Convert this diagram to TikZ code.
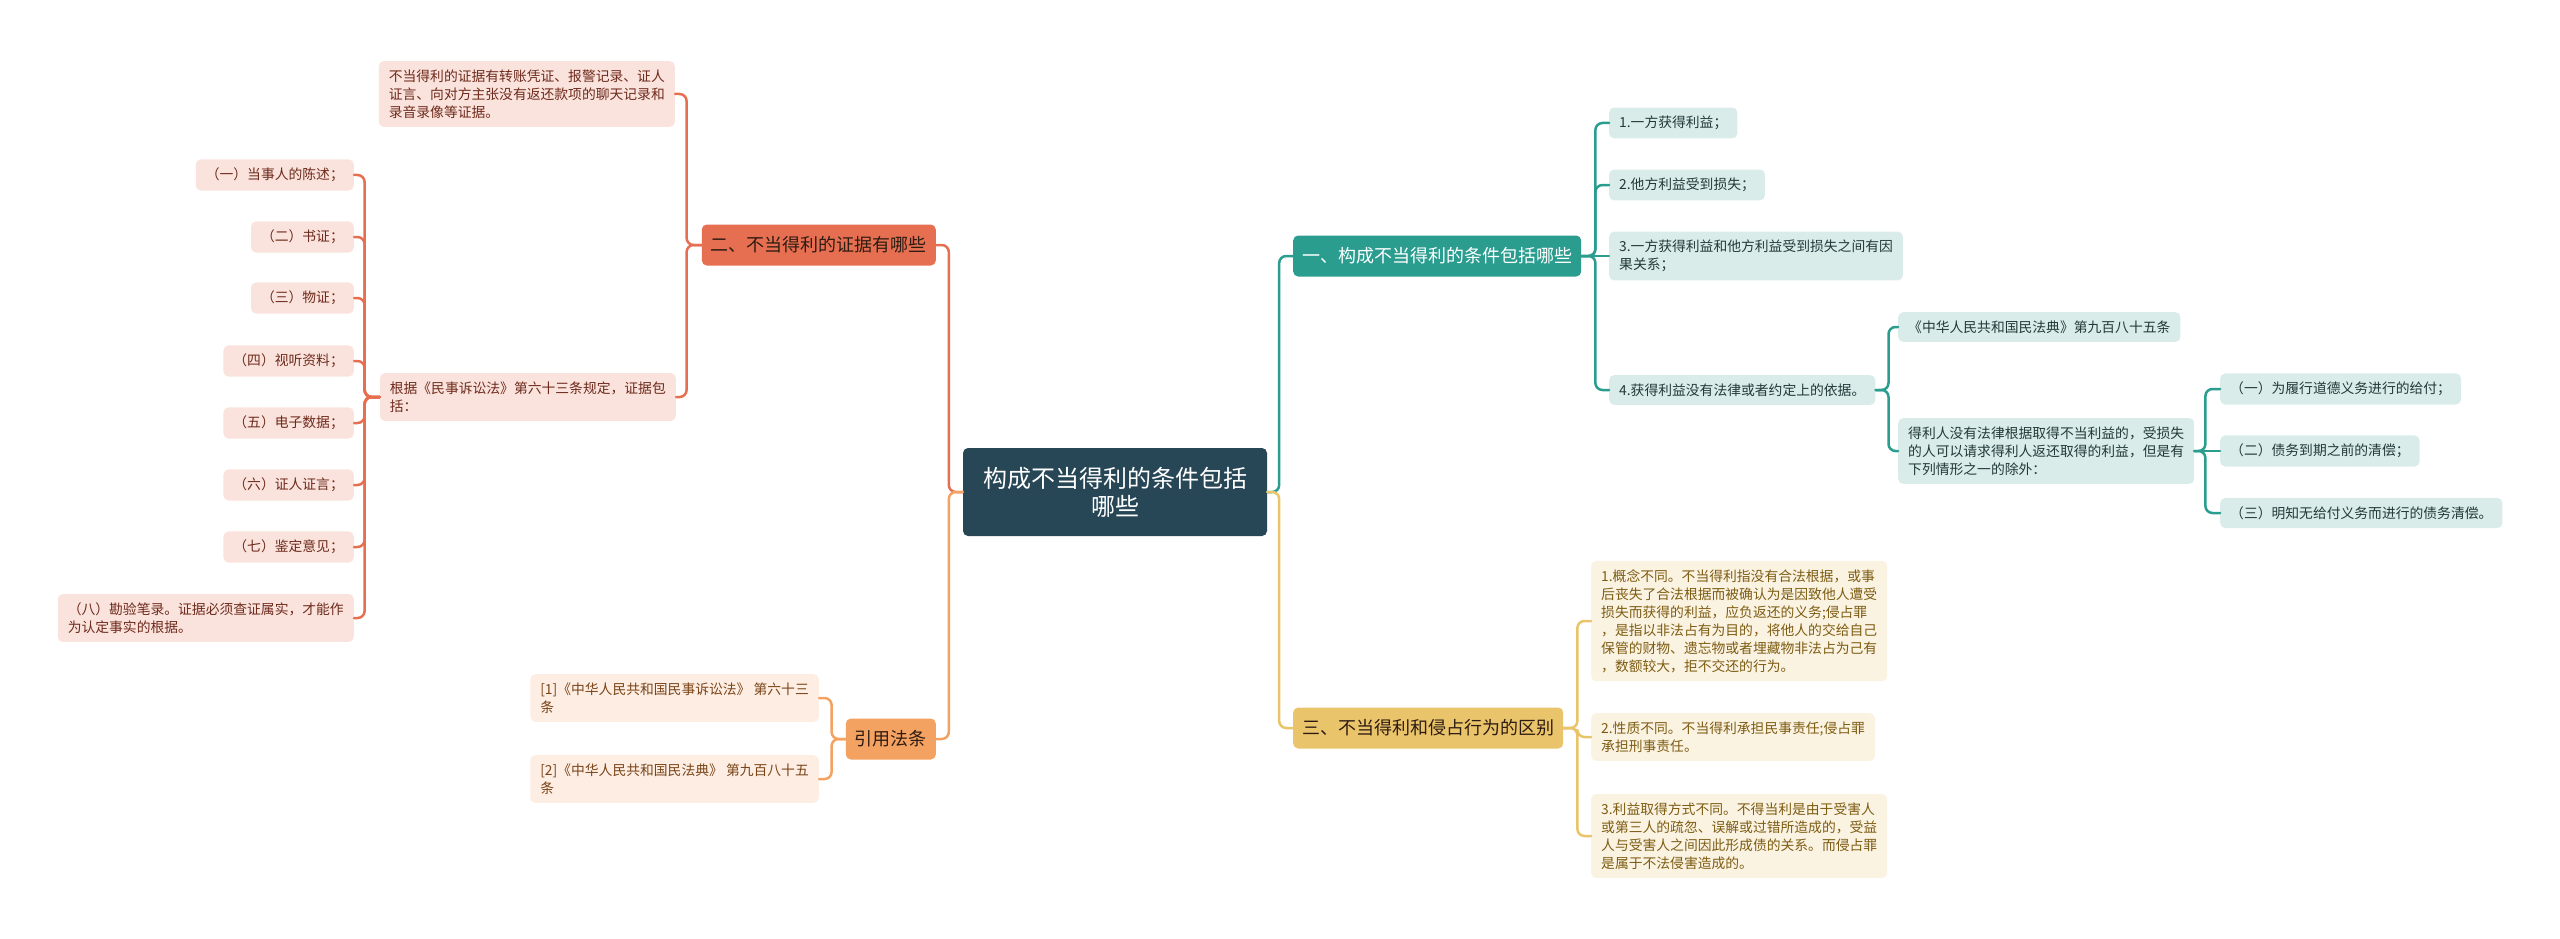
\documentclass[tikz,border=0pt]{standalone}
\usepackage{fontspec}
\setmainfont{Noto Sans CJK SC}
\definecolor{rootc}{HTML}{274756}
\definecolor{tcol}{HTML}{2A9D8F}
\definecolor{tfill}{HTML}{D9ECE9}
\definecolor{ttext}{HTML}{22393A}
\definecolor{rcol}{HTML}{E76F51}
\definecolor{rfill}{HTML}{FAE3DD}
\definecolor{rtext}{HTML}{6E2A1B}
\definecolor{ocol}{HTML}{F4A261}
\definecolor{ofill}{HTML}{FDEDE2}
\definecolor{otext}{HTML}{7A4418}
\definecolor{ycol}{HTML}{E9C46A}
\definecolor{yfill}{HTML}{FBF3E2}
\definecolor{ytext}{HTML}{7D5C12}
\definecolor{btext}{HTML}{2E1C12}
\begin{document}
\begin{tikzpicture}[x=1pt, y=-1pt, line join=round, line cap=round,
	leaf/.style={rounded corners=5pt, inner xsep=10pt, inner ysep=8.5pt, align=left, font=\fontsize{13.8}{18}\selectfont},
	rleaf/.style={leaf, fill=rfill, text=rtext},
	oleaf/.style={leaf, fill=ofill, text=otext},
	tleaf/.style={leaf, fill=tfill, text=ttext},
	yleaf/.style={leaf, fill=yfill, text=ytext},
	branch/.style={rounded corners=5pt, inner xsep=9pt, inner ysep=0pt, minimum height=41pt, font=\fontsize{18}{22}\selectfont},
	link/.style={line width=2.5pt, rounded corners=7pt}]
	\useasboundingbox (0,0) rectangle (2560,939);
	% centre and main branches
	\node[fill=rootc, text=white, rounded corners=5pt, align=center, minimum width=304pt, minimum height=88pt, font=\fontsize{24}{28}\selectfont] (root) at (1115,492) {构成不当得利的条件包括\\哪些};
	\node[branch, fill=tcol, text=white, anchor=west] (b1) at (1293,256) {一、构成不当得利的条件包括哪些};
	\node[branch, fill=rcol, text=btext, anchor=east] (b2) at (936,245) {二、不当得利的证据有哪些};
	\node[branch, fill=ycol, text=btext, anchor=west] (b3) at (1293,728) {三、不当得利和侵占行为的区别};
	\node[branch, fill=ocol, text=btext, anchor=east] (b4) at (936,739) {引用法条};
	\draw[link, tcol] (root.east) -- ++(12,0) |- (b1.west);
	\draw[link, ycol] (root.east) -- ++(12,0) |- (b3.west);
	\draw[link, rcol] (root.west) -- ++(-14,0) |- (b2.east);
	\draw[link, ocol] (root.west) -- ++(-14,0) |- (b4.east);
	% evidence
	\node[rleaf, anchor=east] (r0) at (675,94) {不当得利的证据有转账凭证、报警记录、证人\\证言、向对方主张没有返还款项的聊天记录和\\录音录像等证据。};
	\node[rleaf, anchor=east] (rg) at (676,397) {根据《民事诉讼法》第六十三条规定，证据包\\括：};
	\draw[link, rcol] (b2.west) -- ++(-15,0) |- (r0.east);
	\draw[link, rcol] (b2.west) -- ++(-15,0) |- (rg.east);
	\foreach \y/\t [count=\i] in {175/{（一）当事人的陈述；}, 237/{（二）书证；}, 298/{（三）物证；}, 361/{（四）视听资料；}, 423/{（五）电子数据；}, 485/{（六）证人证言；}, 547/{（七）鉴定意见；}, 618/{（八）勘验笔录。证据必须查证属实，才能作\\为认定事实的根据。}}{
		\node[rleaf, anchor=east] (r\i) at (354,\y) {\t};
		\draw[link, rcol] (rg.west) -- ++(-15,0) |- (r\i.east);
	}
	% cited articles
	\node[oleaf, anchor=east] (o1) at (819,698) {[1]《中华人民共和国民事诉讼法》 第六十三\\条};
	\node[oleaf, anchor=east] (o2) at (819,779) {[2]《中华人民共和国民法典》 第九百八十五\\条};
	\draw[link, ocol] (b4.west) -- ++(-14,0) |- (o1.east);
	\draw[link, ocol] (b4.west) -- ++(-14,0) |- (o2.east);
	% conditions
	\node[tleaf, anchor=west] (t1) at (1609,123) {1.一方获得利益；};
	\node[tleaf, anchor=west] (t2) at (1609,185) {2.他方利益受到损失；};
	\node[tleaf, anchor=west] (t3) at (1609,256) {3.一方获得利益和他方利益受到损失之间有因\\果关系；};
	\node[tleaf, anchor=west] (t4) at (1609,390) {4.获得利益没有法律或者约定上的依据。};
	\draw[link, tcol] (b1.east) -- ++(14,0) |- (t1.west);
	\draw[link, tcol] (b1.east) -- ++(14,0) |- (t2.west);
	\draw[link, tcol] (b1.east) -- (t3.west);
	\draw[link, tcol] (b1.east) -- ++(14,0) |- (t4.west);
	\node[tleaf, anchor=west] (t41) at (1898,327) {《中华人民共和国民法典》第九百八十五条};
	\node[tleaf, anchor=west] (t42) at (1898,451) {得利人没有法律根据取得不当利益的，受损失\\的人可以请求得利人返还取得的利益，但是有\\下列情形之一的除外：};
	\draw[link, tcol] (t4.east) -- ++(13,0) |- (t41.west);
	\draw[link, tcol] (t4.east) -- ++(13,0) |- (t42.west);
	\node[tleaf, anchor=west] (s1) at (2220,389) {（一）为履行道德义务进行的给付；};
	\node[tleaf, anchor=west] (s2) at (2220,451) {（二）债务到期之前的清偿；};
	\node[tleaf, anchor=west] (s3) at (2220,513) {（三）明知无给付义务而进行的债务清偿。};
	\draw[link, tcol] (t42.east) -- ++(11,0) |- (s1.west);
	\draw[link, tcol] (t42.east) -- (s2.west);
	\draw[link, tcol] (t42.east) -- ++(11,0) |- (s3.west);
	% differences
	\node[yleaf, anchor=west] (y1) at (1591,621) {1.概念不同。不当得利指没有合法根据，或事\\后丧失了合法根据而被确认为是因致他人遭受\\损失而获得的利益，应负返还的义务;侵占罪\\，是指以非法占有为目的，将他人的交给自己\\保管的财物、遗忘物或者埋藏物非法占为己有\\，数额较大，拒不交还的行为。};
	\node[yleaf, anchor=west] (y2) at (1591,737) {2.性质不同。不当得利承担民事责任;侵占罪\\承担刑事责任。};
	\node[yleaf, anchor=west] (y3) at (1591,836) {3.利益取得方式不同。不得当利是由于受害人\\或第三人的疏忽、误解或过错所造成的，受益\\人与受害人之间因此形成债的关系。而侵占罪\\是属于不法侵害造成的。};
	\draw[link, ycol] (b3.east) -- ++(14,0) |- (y1.west);
	\draw[link, ycol] (b3.east) -- ++(14,0) |- (y2.west);
	\draw[link, ycol] (b3.east) -- ++(14,0) |- (y3.west);
\end{tikzpicture}
\end{document}
